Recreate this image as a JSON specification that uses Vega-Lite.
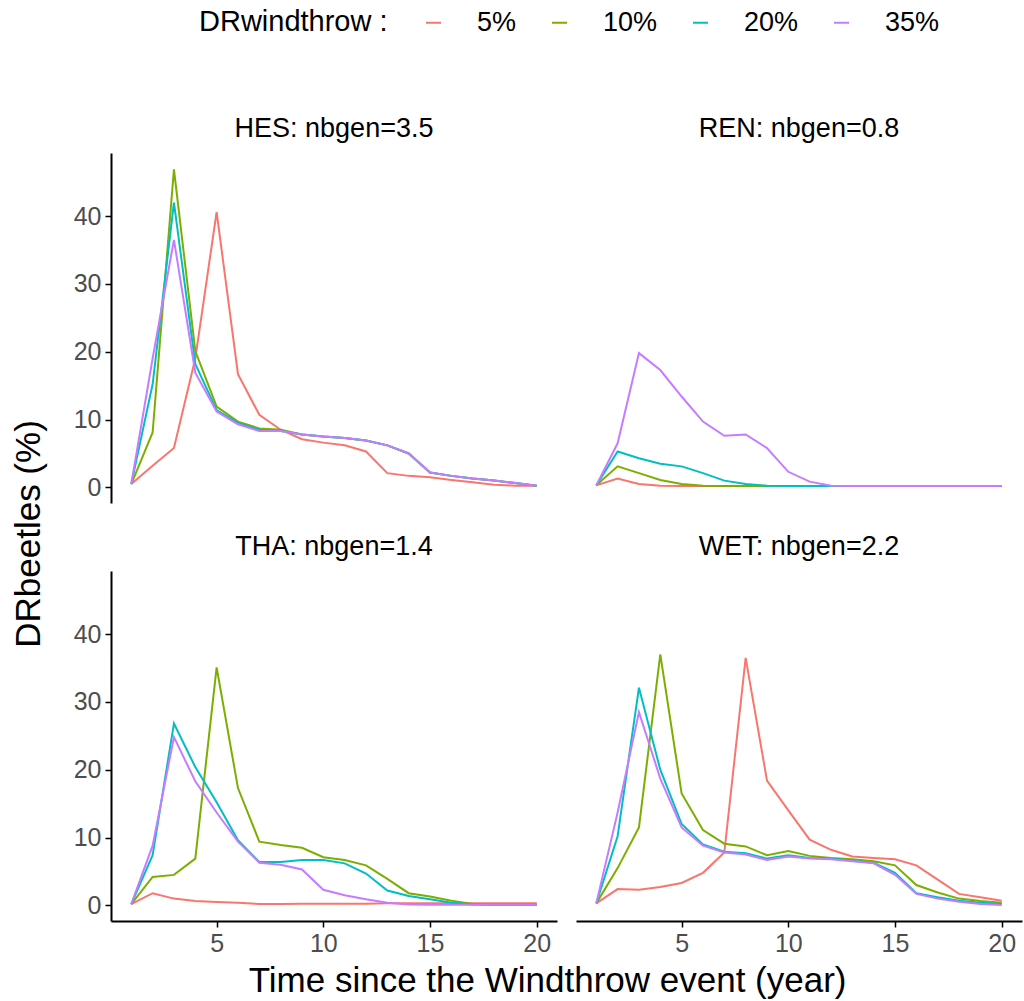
{
  "$schema": "https://vega.github.io/schema/vega-lite/v6.json",
  "padding": {"left": 12, "top": 9, "right": 2, "bottom": 0},
  "background": "white",
  "config": {
    "font": "Liberation Sans",
    "view": {"stroke": null},
    "axis": {
      "grid": false,
      "domainColor": "black",
      "domainWidth": 2,
      "tickColor": "black",
      "tickWidth": 1.5,
      "tickSize": 6,
      "labelColor": "#4D4D4D",
      "labelFontSize": 25,
      "labelPadding": 4,
      "title": null
    },
    "header": {"labelFontSize": 27, "labelColor": "black", "labelPadding": 10},
    "title": {"fontWeight": "normal", "color": "black", "fontSize": 35}
  },
  "title": {"text": "DRbeetles (%)", "orient": "left", "anchor": "middle", "offset": 26, "dx": -30},
  "data": {
    "values": [
      {"site":"HES: nbgen=3.5","dr":"5%","t":1,"v":0.5},{"site":"HES: nbgen=3.5","dr":"5%","t":2,"v":3.2},{"site":"HES: nbgen=3.5","dr":"5%","t":3,"v":5.8},{"site":"HES: nbgen=3.5","dr":"5%","t":4,"v":19},{"site":"HES: nbgen=3.5","dr":"5%","t":5,"v":40.6},{"site":"HES: nbgen=3.5","dr":"5%","t":6,"v":16.7},{"site":"HES: nbgen=3.5","dr":"5%","t":7,"v":10.7},{"site":"HES: nbgen=3.5","dr":"5%","t":8,"v":8.5},{"site":"HES: nbgen=3.5","dr":"5%","t":9,"v":7.1},{"site":"HES: nbgen=3.5","dr":"5%","t":10,"v":6.6},{"site":"HES: nbgen=3.5","dr":"5%","t":11,"v":6.2},{"site":"HES: nbgen=3.5","dr":"5%","t":12,"v":5.3},{"site":"HES: nbgen=3.5","dr":"5%","t":13,"v":2.1},{"site":"HES: nbgen=3.5","dr":"5%","t":14,"v":1.7},{"site":"HES: nbgen=3.5","dr":"5%","t":15,"v":1.5},{"site":"HES: nbgen=3.5","dr":"5%","t":16,"v":1.1},{"site":"HES: nbgen=3.5","dr":"5%","t":17,"v":0.75},{"site":"HES: nbgen=3.5","dr":"5%","t":18,"v":0.4},{"site":"HES: nbgen=3.5","dr":"5%","t":19,"v":0.25},{"site":"HES: nbgen=3.5","dr":"5%","t":20,"v":0.25},
      {"site":"HES: nbgen=3.5","dr":"10%","t":1,"v":0.5},{"site":"HES: nbgen=3.5","dr":"10%","t":2,"v":8.1},{"site":"HES: nbgen=3.5","dr":"10%","t":3,"v":46.9},{"site":"HES: nbgen=3.5","dr":"10%","t":4,"v":20.1},{"site":"HES: nbgen=3.5","dr":"10%","t":5,"v":11.9},{"site":"HES: nbgen=3.5","dr":"10%","t":6,"v":9.7},{"site":"HES: nbgen=3.5","dr":"10%","t":7,"v":8.7},{"site":"HES: nbgen=3.5","dr":"10%","t":8,"v":8.5},{"site":"HES: nbgen=3.5","dr":"10%","t":9,"v":7.8},{"site":"HES: nbgen=3.5","dr":"10%","t":10,"v":7.5},{"site":"HES: nbgen=3.5","dr":"10%","t":11,"v":7.3},{"site":"HES: nbgen=3.5","dr":"10%","t":12,"v":6.9},{"site":"HES: nbgen=3.5","dr":"10%","t":13,"v":6.2},{"site":"HES: nbgen=3.5","dr":"10%","t":14,"v":5.0},{"site":"HES: nbgen=3.5","dr":"10%","t":15,"v":2.2},{"site":"HES: nbgen=3.5","dr":"10%","t":16,"v":1.7},{"site":"HES: nbgen=3.5","dr":"10%","t":17,"v":1.3},{"site":"HES: nbgen=3.5","dr":"10%","t":18,"v":1.0},{"site":"HES: nbgen=3.5","dr":"10%","t":19,"v":0.65},{"site":"HES: nbgen=3.5","dr":"10%","t":20,"v":0.25},
      {"site":"HES: nbgen=3.5","dr":"20%","t":1,"v":0.5},{"site":"HES: nbgen=3.5","dr":"20%","t":2,"v":15.2},{"site":"HES: nbgen=3.5","dr":"20%","t":3,"v":42},{"site":"HES: nbgen=3.5","dr":"20%","t":4,"v":18.2},{"site":"HES: nbgen=3.5","dr":"20%","t":5,"v":11.4},{"site":"HES: nbgen=3.5","dr":"20%","t":6,"v":9.5},{"site":"HES: nbgen=3.5","dr":"20%","t":7,"v":8.5},{"site":"HES: nbgen=3.5","dr":"20%","t":8,"v":8.3},{"site":"HES: nbgen=3.5","dr":"20%","t":9,"v":7.8},{"site":"HES: nbgen=3.5","dr":"20%","t":10,"v":7.5},{"site":"HES: nbgen=3.5","dr":"20%","t":11,"v":7.3},{"site":"HES: nbgen=3.5","dr":"20%","t":12,"v":6.9},{"site":"HES: nbgen=3.5","dr":"20%","t":13,"v":6.2},{"site":"HES: nbgen=3.5","dr":"20%","t":14,"v":5.0},{"site":"HES: nbgen=3.5","dr":"20%","t":15,"v":2.2},{"site":"HES: nbgen=3.5","dr":"20%","t":16,"v":1.7},{"site":"HES: nbgen=3.5","dr":"20%","t":17,"v":1.3},{"site":"HES: nbgen=3.5","dr":"20%","t":18,"v":1.0},{"site":"HES: nbgen=3.5","dr":"20%","t":19,"v":0.65},{"site":"HES: nbgen=3.5","dr":"20%","t":20,"v":0.25},
      {"site":"HES: nbgen=3.5","dr":"35%","t":1,"v":0.5},{"site":"HES: nbgen=3.5","dr":"35%","t":2,"v":19},{"site":"HES: nbgen=3.5","dr":"35%","t":3,"v":36.5},{"site":"HES: nbgen=3.5","dr":"35%","t":4,"v":16.9},{"site":"HES: nbgen=3.5","dr":"35%","t":5,"v":11.2},{"site":"HES: nbgen=3.5","dr":"35%","t":6,"v":9.3},{"site":"HES: nbgen=3.5","dr":"35%","t":7,"v":8.3},{"site":"HES: nbgen=3.5","dr":"35%","t":8,"v":8.3},{"site":"HES: nbgen=3.5","dr":"35%","t":9,"v":7.8},{"site":"HES: nbgen=3.5","dr":"35%","t":10,"v":7.5},{"site":"HES: nbgen=3.5","dr":"35%","t":11,"v":7.3},{"site":"HES: nbgen=3.5","dr":"35%","t":12,"v":6.9},{"site":"HES: nbgen=3.5","dr":"35%","t":13,"v":6.2},{"site":"HES: nbgen=3.5","dr":"35%","t":14,"v":5.0},{"site":"HES: nbgen=3.5","dr":"35%","t":15,"v":2.2},{"site":"HES: nbgen=3.5","dr":"35%","t":16,"v":1.7},{"site":"HES: nbgen=3.5","dr":"35%","t":17,"v":1.3},{"site":"HES: nbgen=3.5","dr":"35%","t":18,"v":1.0},{"site":"HES: nbgen=3.5","dr":"35%","t":19,"v":0.65},{"site":"HES: nbgen=3.5","dr":"35%","t":20,"v":0.25},
      {"site":"REN: nbgen=0.8","dr":"5%","t":1,"v":0.3},{"site":"REN: nbgen=0.8","dr":"5%","t":2,"v":1.3},{"site":"REN: nbgen=0.8","dr":"5%","t":3,"v":0.5},{"site":"REN: nbgen=0.8","dr":"5%","t":4,"v":0.25},{"site":"REN: nbgen=0.8","dr":"5%","t":5,"v":0.2},{"site":"REN: nbgen=0.8","dr":"5%","t":6,"v":0.2},{"site":"REN: nbgen=0.8","dr":"5%","t":7,"v":0.2},{"site":"REN: nbgen=0.8","dr":"5%","t":8,"v":0.2},{"site":"REN: nbgen=0.8","dr":"5%","t":9,"v":0.2},{"site":"REN: nbgen=0.8","dr":"5%","t":10,"v":0.2},{"site":"REN: nbgen=0.8","dr":"5%","t":11,"v":0.2},{"site":"REN: nbgen=0.8","dr":"5%","t":12,"v":0.2},{"site":"REN: nbgen=0.8","dr":"5%","t":13,"v":0.2},{"site":"REN: nbgen=0.8","dr":"5%","t":14,"v":0.2},{"site":"REN: nbgen=0.8","dr":"5%","t":15,"v":0.2},{"site":"REN: nbgen=0.8","dr":"5%","t":16,"v":0.2},{"site":"REN: nbgen=0.8","dr":"5%","t":17,"v":0.2},{"site":"REN: nbgen=0.8","dr":"5%","t":18,"v":0.2},{"site":"REN: nbgen=0.8","dr":"5%","t":19,"v":0.2},{"site":"REN: nbgen=0.8","dr":"5%","t":20,"v":0.2},
      {"site":"REN: nbgen=0.8","dr":"10%","t":1,"v":0.3},{"site":"REN: nbgen=0.8","dr":"10%","t":2,"v":3.1},{"site":"REN: nbgen=0.8","dr":"10%","t":3,"v":2.1},{"site":"REN: nbgen=0.8","dr":"10%","t":4,"v":1.1},{"site":"REN: nbgen=0.8","dr":"10%","t":5,"v":0.5},{"site":"REN: nbgen=0.8","dr":"10%","t":6,"v":0.25},{"site":"REN: nbgen=0.8","dr":"10%","t":7,"v":0.2},{"site":"REN: nbgen=0.8","dr":"10%","t":8,"v":0.2},{"site":"REN: nbgen=0.8","dr":"10%","t":9,"v":0.2},{"site":"REN: nbgen=0.8","dr":"10%","t":10,"v":0.2},{"site":"REN: nbgen=0.8","dr":"10%","t":11,"v":0.2},{"site":"REN: nbgen=0.8","dr":"10%","t":12,"v":0.2},{"site":"REN: nbgen=0.8","dr":"10%","t":13,"v":0.2},{"site":"REN: nbgen=0.8","dr":"10%","t":14,"v":0.2},{"site":"REN: nbgen=0.8","dr":"10%","t":15,"v":0.2},{"site":"REN: nbgen=0.8","dr":"10%","t":16,"v":0.2},{"site":"REN: nbgen=0.8","dr":"10%","t":17,"v":0.2},{"site":"REN: nbgen=0.8","dr":"10%","t":18,"v":0.2},{"site":"REN: nbgen=0.8","dr":"10%","t":19,"v":0.2},{"site":"REN: nbgen=0.8","dr":"10%","t":20,"v":0.2},
      {"site":"REN: nbgen=0.8","dr":"20%","t":1,"v":0.3},{"site":"REN: nbgen=0.8","dr":"20%","t":2,"v":5.3},{"site":"REN: nbgen=0.8","dr":"20%","t":3,"v":4.3},{"site":"REN: nbgen=0.8","dr":"20%","t":4,"v":3.5},{"site":"REN: nbgen=0.8","dr":"20%","t":5,"v":3.1},{"site":"REN: nbgen=0.8","dr":"20%","t":6,"v":2.1},{"site":"REN: nbgen=0.8","dr":"20%","t":7,"v":1.0},{"site":"REN: nbgen=0.8","dr":"20%","t":8,"v":0.5},{"site":"REN: nbgen=0.8","dr":"20%","t":9,"v":0.25},{"site":"REN: nbgen=0.8","dr":"20%","t":10,"v":0.2},{"site":"REN: nbgen=0.8","dr":"20%","t":11,"v":0.2},{"site":"REN: nbgen=0.8","dr":"20%","t":12,"v":0.2},{"site":"REN: nbgen=0.8","dr":"20%","t":13,"v":0.2},{"site":"REN: nbgen=0.8","dr":"20%","t":14,"v":0.2},{"site":"REN: nbgen=0.8","dr":"20%","t":15,"v":0.2},{"site":"REN: nbgen=0.8","dr":"20%","t":16,"v":0.2},{"site":"REN: nbgen=0.8","dr":"20%","t":17,"v":0.2},{"site":"REN: nbgen=0.8","dr":"20%","t":18,"v":0.2},{"site":"REN: nbgen=0.8","dr":"20%","t":19,"v":0.2},{"site":"REN: nbgen=0.8","dr":"20%","t":20,"v":0.2},
      {"site":"REN: nbgen=0.8","dr":"35%","t":1,"v":0.3},{"site":"REN: nbgen=0.8","dr":"35%","t":2,"v":6.5},{"site":"REN: nbgen=0.8","dr":"35%","t":3,"v":19.8},{"site":"REN: nbgen=0.8","dr":"35%","t":4,"v":17.3},{"site":"REN: nbgen=0.8","dr":"35%","t":5,"v":13.4},{"site":"REN: nbgen=0.8","dr":"35%","t":6,"v":9.7},{"site":"REN: nbgen=0.8","dr":"35%","t":7,"v":7.6},{"site":"REN: nbgen=0.8","dr":"35%","t":8,"v":7.8},{"site":"REN: nbgen=0.8","dr":"35%","t":9,"v":5.8},{"site":"REN: nbgen=0.8","dr":"35%","t":10,"v":2.3},{"site":"REN: nbgen=0.8","dr":"35%","t":11,"v":0.85},{"site":"REN: nbgen=0.8","dr":"35%","t":12,"v":0.25},{"site":"REN: nbgen=0.8","dr":"35%","t":13,"v":0.2},{"site":"REN: nbgen=0.8","dr":"35%","t":14,"v":0.2},{"site":"REN: nbgen=0.8","dr":"35%","t":15,"v":0.2},{"site":"REN: nbgen=0.8","dr":"35%","t":16,"v":0.2},{"site":"REN: nbgen=0.8","dr":"35%","t":17,"v":0.2},{"site":"REN: nbgen=0.8","dr":"35%","t":18,"v":0.2},{"site":"REN: nbgen=0.8","dr":"35%","t":19,"v":0.2},{"site":"REN: nbgen=0.8","dr":"35%","t":20,"v":0.2},
      {"site":"THA: nbgen=1.4","dr":"5%","t":1,"v":0.2},{"site":"THA: nbgen=1.4","dr":"5%","t":2,"v":1.8},{"site":"THA: nbgen=1.4","dr":"5%","t":3,"v":1.0},{"site":"THA: nbgen=1.4","dr":"5%","t":4,"v":0.65},{"site":"THA: nbgen=1.4","dr":"5%","t":5,"v":0.5},{"site":"THA: nbgen=1.4","dr":"5%","t":6,"v":0.4},{"site":"THA: nbgen=1.4","dr":"5%","t":7,"v":0.2},{"site":"THA: nbgen=1.4","dr":"5%","t":8,"v":0.2},{"site":"THA: nbgen=1.4","dr":"5%","t":9,"v":0.25},{"site":"THA: nbgen=1.4","dr":"5%","t":10,"v":0.25},{"site":"THA: nbgen=1.4","dr":"5%","t":11,"v":0.25},{"site":"THA: nbgen=1.4","dr":"5%","t":12,"v":0.25},{"site":"THA: nbgen=1.4","dr":"5%","t":13,"v":0.3},{"site":"THA: nbgen=1.4","dr":"5%","t":14,"v":0.3},{"site":"THA: nbgen=1.4","dr":"5%","t":15,"v":0.3},{"site":"THA: nbgen=1.4","dr":"5%","t":16,"v":0.3},{"site":"THA: nbgen=1.4","dr":"5%","t":17,"v":0.3},{"site":"THA: nbgen=1.4","dr":"5%","t":18,"v":0.3},{"site":"THA: nbgen=1.4","dr":"5%","t":19,"v":0.3},{"site":"THA: nbgen=1.4","dr":"5%","t":20,"v":0.3},
      {"site":"THA: nbgen=1.4","dr":"10%","t":1,"v":0.2},{"site":"THA: nbgen=1.4","dr":"10%","t":2,"v":4.2},{"site":"THA: nbgen=1.4","dr":"10%","t":3,"v":4.5},{"site":"THA: nbgen=1.4","dr":"10%","t":4,"v":6.9},{"site":"THA: nbgen=1.4","dr":"10%","t":5,"v":35.1},{"site":"THA: nbgen=1.4","dr":"10%","t":6,"v":17.3},{"site":"THA: nbgen=1.4","dr":"10%","t":7,"v":9.4},{"site":"THA: nbgen=1.4","dr":"10%","t":8,"v":8.9},{"site":"THA: nbgen=1.4","dr":"10%","t":9,"v":8.5},{"site":"THA: nbgen=1.4","dr":"10%","t":10,"v":7.1},{"site":"THA: nbgen=1.4","dr":"10%","t":11,"v":6.7},{"site":"THA: nbgen=1.4","dr":"10%","t":12,"v":5.9},{"site":"THA: nbgen=1.4","dr":"10%","t":13,"v":3.9},{"site":"THA: nbgen=1.4","dr":"10%","t":14,"v":1.8},{"site":"THA: nbgen=1.4","dr":"10%","t":15,"v":1.3},{"site":"THA: nbgen=1.4","dr":"10%","t":16,"v":0.7},{"site":"THA: nbgen=1.4","dr":"10%","t":17,"v":0.2},{"site":"THA: nbgen=1.4","dr":"10%","t":18,"v":0.1},{"site":"THA: nbgen=1.4","dr":"10%","t":19,"v":0.1},{"site":"THA: nbgen=1.4","dr":"10%","t":20,"v":0.1},
      {"site":"THA: nbgen=1.4","dr":"20%","t":1,"v":0.2},{"site":"THA: nbgen=1.4","dr":"20%","t":2,"v":7.4},{"site":"THA: nbgen=1.4","dr":"20%","t":3,"v":26.8},{"site":"THA: nbgen=1.4","dr":"20%","t":4,"v":20.4},{"site":"THA: nbgen=1.4","dr":"20%","t":5,"v":15.2},{"site":"THA: nbgen=1.4","dr":"20%","t":6,"v":9.6},{"site":"THA: nbgen=1.4","dr":"20%","t":7,"v":6.4},{"site":"THA: nbgen=1.4","dr":"20%","t":8,"v":6.4},{"site":"THA: nbgen=1.4","dr":"20%","t":9,"v":6.7},{"site":"THA: nbgen=1.4","dr":"20%","t":10,"v":6.7},{"site":"THA: nbgen=1.4","dr":"20%","t":11,"v":6.2},{"site":"THA: nbgen=1.4","dr":"20%","t":12,"v":4.7},{"site":"THA: nbgen=1.4","dr":"20%","t":13,"v":2.2},{"site":"THA: nbgen=1.4","dr":"20%","t":14,"v":1.4},{"site":"THA: nbgen=1.4","dr":"20%","t":15,"v":0.9},{"site":"THA: nbgen=1.4","dr":"20%","t":16,"v":0.4},{"site":"THA: nbgen=1.4","dr":"20%","t":17,"v":0.15},{"site":"THA: nbgen=1.4","dr":"20%","t":18,"v":0.1},{"site":"THA: nbgen=1.4","dr":"20%","t":19,"v":0.1},{"site":"THA: nbgen=1.4","dr":"20%","t":20,"v":0.1},
      {"site":"THA: nbgen=1.4","dr":"35%","t":1,"v":0.2},{"site":"THA: nbgen=1.4","dr":"35%","t":2,"v":8.8},{"site":"THA: nbgen=1.4","dr":"35%","t":3,"v":24.8},{"site":"THA: nbgen=1.4","dr":"35%","t":4,"v":18.3},{"site":"THA: nbgen=1.4","dr":"35%","t":5,"v":13.7},{"site":"THA: nbgen=1.4","dr":"35%","t":6,"v":9.4},{"site":"THA: nbgen=1.4","dr":"35%","t":7,"v":6.3},{"site":"THA: nbgen=1.4","dr":"35%","t":8,"v":6.0},{"site":"THA: nbgen=1.4","dr":"35%","t":9,"v":5.3},{"site":"THA: nbgen=1.4","dr":"35%","t":10,"v":2.3},{"site":"THA: nbgen=1.4","dr":"35%","t":11,"v":1.5},{"site":"THA: nbgen=1.4","dr":"35%","t":12,"v":0.9},{"site":"THA: nbgen=1.4","dr":"35%","t":13,"v":0.4},{"site":"THA: nbgen=1.4","dr":"35%","t":14,"v":0.15},{"site":"THA: nbgen=1.4","dr":"35%","t":15,"v":0.1},{"site":"THA: nbgen=1.4","dr":"35%","t":16,"v":0.1},{"site":"THA: nbgen=1.4","dr":"35%","t":17,"v":0.1},{"site":"THA: nbgen=1.4","dr":"35%","t":18,"v":0.1},{"site":"THA: nbgen=1.4","dr":"35%","t":19,"v":0.1},{"site":"THA: nbgen=1.4","dr":"35%","t":20,"v":0.1},
      {"site":"WET: nbgen=2.2","dr":"5%","t":1,"v":0.3},{"site":"WET: nbgen=2.2","dr":"5%","t":2,"v":2.4},{"site":"WET: nbgen=2.2","dr":"5%","t":3,"v":2.3},{"site":"WET: nbgen=2.2","dr":"5%","t":4,"v":2.7},{"site":"WET: nbgen=2.2","dr":"5%","t":5,"v":3.3},{"site":"WET: nbgen=2.2","dr":"5%","t":6,"v":4.8},{"site":"WET: nbgen=2.2","dr":"5%","t":7,"v":7.8},{"site":"WET: nbgen=2.2","dr":"5%","t":8,"v":36.5},{"site":"WET: nbgen=2.2","dr":"5%","t":9,"v":18.4},{"site":"WET: nbgen=2.2","dr":"5%","t":10,"v":14.0},{"site":"WET: nbgen=2.2","dr":"5%","t":11,"v":9.7},{"site":"WET: nbgen=2.2","dr":"5%","t":12,"v":8.2},{"site":"WET: nbgen=2.2","dr":"5%","t":13,"v":7.2},{"site":"WET: nbgen=2.2","dr":"5%","t":14,"v":7.0},{"site":"WET: nbgen=2.2","dr":"5%","t":15,"v":6.8},{"site":"WET: nbgen=2.2","dr":"5%","t":16,"v":5.9},{"site":"WET: nbgen=2.2","dr":"5%","t":17,"v":3.8},{"site":"WET: nbgen=2.2","dr":"5%","t":18,"v":1.7},{"site":"WET: nbgen=2.2","dr":"5%","t":19,"v":1.2},{"site":"WET: nbgen=2.2","dr":"5%","t":20,"v":0.7},
      {"site":"WET: nbgen=2.2","dr":"10%","t":1,"v":0.3},{"site":"WET: nbgen=2.2","dr":"10%","t":2,"v":5.5},{"site":"WET: nbgen=2.2","dr":"10%","t":3,"v":11.5},{"site":"WET: nbgen=2.2","dr":"10%","t":4,"v":37.0},{"site":"WET: nbgen=2.2","dr":"10%","t":5,"v":16.5},{"site":"WET: nbgen=2.2","dr":"10%","t":6,"v":11.1},{"site":"WET: nbgen=2.2","dr":"10%","t":7,"v":9.1},{"site":"WET: nbgen=2.2","dr":"10%","t":8,"v":8.7},{"site":"WET: nbgen=2.2","dr":"10%","t":9,"v":7.4},{"site":"WET: nbgen=2.2","dr":"10%","t":10,"v":8.0},{"site":"WET: nbgen=2.2","dr":"10%","t":11,"v":7.3},{"site":"WET: nbgen=2.2","dr":"10%","t":12,"v":7.0},{"site":"WET: nbgen=2.2","dr":"10%","t":13,"v":6.8},{"site":"WET: nbgen=2.2","dr":"10%","t":14,"v":6.5},{"site":"WET: nbgen=2.2","dr":"10%","t":15,"v":5.9},{"site":"WET: nbgen=2.2","dr":"10%","t":16,"v":3.0},{"site":"WET: nbgen=2.2","dr":"10%","t":17,"v":1.9},{"site":"WET: nbgen=2.2","dr":"10%","t":18,"v":1.0},{"site":"WET: nbgen=2.2","dr":"10%","t":19,"v":0.65},{"site":"WET: nbgen=2.2","dr":"10%","t":20,"v":0.4},
      {"site":"WET: nbgen=2.2","dr":"20%","t":1,"v":0.3},{"site":"WET: nbgen=2.2","dr":"20%","t":2,"v":10.2},{"site":"WET: nbgen=2.2","dr":"20%","t":3,"v":32.1},{"site":"WET: nbgen=2.2","dr":"20%","t":4,"v":20.0},{"site":"WET: nbgen=2.2","dr":"20%","t":5,"v":12.0},{"site":"WET: nbgen=2.2","dr":"20%","t":6,"v":9.0},{"site":"WET: nbgen=2.2","dr":"20%","t":7,"v":7.9},{"site":"WET: nbgen=2.2","dr":"20%","t":8,"v":7.7},{"site":"WET: nbgen=2.2","dr":"20%","t":9,"v":6.9},{"site":"WET: nbgen=2.2","dr":"20%","t":10,"v":7.4},{"site":"WET: nbgen=2.2","dr":"20%","t":11,"v":7.0},{"site":"WET: nbgen=2.2","dr":"20%","t":12,"v":6.9},{"site":"WET: nbgen=2.2","dr":"20%","t":13,"v":6.6},{"site":"WET: nbgen=2.2","dr":"20%","t":14,"v":6.3},{"site":"WET: nbgen=2.2","dr":"20%","t":15,"v":4.8},{"site":"WET: nbgen=2.2","dr":"20%","t":16,"v":1.8},{"site":"WET: nbgen=2.2","dr":"20%","t":17,"v":1.2},{"site":"WET: nbgen=2.2","dr":"20%","t":18,"v":0.7},{"site":"WET: nbgen=2.2","dr":"20%","t":19,"v":0.4},{"site":"WET: nbgen=2.2","dr":"20%","t":20,"v":0.2},
      {"site":"WET: nbgen=2.2","dr":"35%","t":1,"v":0.3},{"site":"WET: nbgen=2.2","dr":"35%","t":2,"v":13.7},{"site":"WET: nbgen=2.2","dr":"35%","t":3,"v":28.5},{"site":"WET: nbgen=2.2","dr":"35%","t":4,"v":18.7},{"site":"WET: nbgen=2.2","dr":"35%","t":5,"v":11.5},{"site":"WET: nbgen=2.2","dr":"35%","t":6,"v":8.8},{"site":"WET: nbgen=2.2","dr":"35%","t":7,"v":7.8},{"site":"WET: nbgen=2.2","dr":"35%","t":8,"v":7.5},{"site":"WET: nbgen=2.2","dr":"35%","t":9,"v":6.7},{"site":"WET: nbgen=2.2","dr":"35%","t":10,"v":7.2},{"site":"WET: nbgen=2.2","dr":"35%","t":11,"v":6.9},{"site":"WET: nbgen=2.2","dr":"35%","t":12,"v":6.8},{"site":"WET: nbgen=2.2","dr":"35%","t":13,"v":6.5},{"site":"WET: nbgen=2.2","dr":"35%","t":14,"v":6.2},{"site":"WET: nbgen=2.2","dr":"35%","t":15,"v":4.5},{"site":"WET: nbgen=2.2","dr":"35%","t":16,"v":1.7},{"site":"WET: nbgen=2.2","dr":"35%","t":17,"v":1.0},{"site":"WET: nbgen=2.2","dr":"35%","t":18,"v":0.55},{"site":"WET: nbgen=2.2","dr":"35%","t":19,"v":0.2},{"site":"WET: nbgen=2.2","dr":"35%","t":20,"v":0.05}
    ]
  },
  "vconcat": [
    {
      "title": {"text": "Time since the Windthrow event (year)", "orient": "bottom", "anchor": "middle", "offset": 8},
      "facet": {"field": "site", "type": "nominal", "header": {"title": null}},
      "columns": 2,
      "spacing": {"row": 30, "column": 19},
      "spec": {
        "width": 446,
        "height": 350,
        "mark": {"type": "line", "strokeWidth": 2},
        "encoding": {
          "x": {
            "field": "t",
            "type": "quantitative",
            "scale": {"domain": [0.05, 20.95], "nice": false, "zero": false},
            "axis": {"values": [5, 10, 15, 20]}
          },
          "y": {
            "field": "v",
            "type": "quantitative",
            "scale": {"domain": [-2.3, 49.3], "nice": false, "zero": false},
            "axis": {"values": [0, 10, 20, 30, 40]}
          },
          "color": {
            "field": "dr",
            "type": "nominal",
            "sort": ["5%", "10%", "20%", "35%"],
            "scale": {"domain": ["5%", "10%", "20%", "35%"], "range": ["#F8766D", "#7CAE00", "#00BFC4", "#C77CFF"]},
            "legend": {
              "title": "DRwindthrow :",
              "orient": "none",
              "legendX": 88,
              "legendY": -144,
              "direction": "horizontal",
              "titleOrient": "left",
              "titleFontSize": 29,
              "titleFontWeight": "normal",
              "titleColor": "black",
              "titleLimit": 400,
              "titlePadding": 32,
              "labelFontSize": 27,
              "labelColor": "black",
              "labelOffset": 30,
              "symbolType": "stroke",
              "symbolStrokeWidth": 2,
              "symbolSize": 225,
              "columnPadding": 29
            }
          }
        }
      }
    }
  ]
}
